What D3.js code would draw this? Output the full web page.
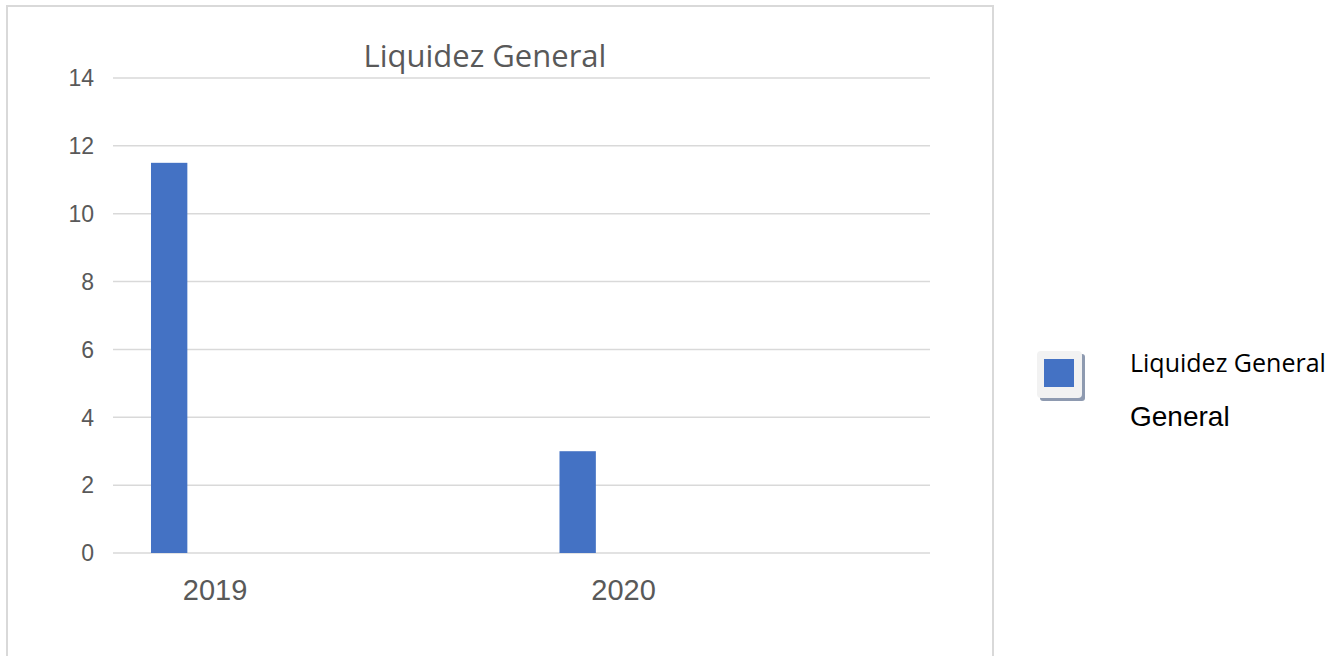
<!DOCTYPE html>
<html>
<head>
<meta charset="utf-8">
<script src="https://cdn.jsdelivr.net/npm/d3@7.9.0/dist/d3.min.js"></script>
<style>
  html, body { margin: 0; padding: 0; background: #fff; }
  svg { display: block; }
</style>
</head>
<body>
<svg id="chart" width="1344" height="656"></svg>
<script>
const years = ['2019', '2020'];
const liquidez = [11.5, 3];
const yTicks = [0, 2, 4, 6, 8, 10, 12, 14];
const chartTitle = 'Liquidez General';
const legendLabel = 'Liquidez General';
const legendExtra = 'General';

const svg = d3.select('#chart');
const blue = '#4472c4';
const grey = '#595959';

// outer frame (bottom runs off the page)
svg.append('rect')
  .attr('x', 7).attr('y', 6)
  .attr('width', 986).attr('height', 700)
  .attr('fill', 'none')
  .attr('stroke', '#d9d9d9')
  .attr('stroke-width', 2);

const x = d3.scaleBand().domain(years).range([113, 930]).padding(0);
const y = d3.scaleLinear().domain([0, 14]).range([553, 78]);

// gridlines
svg.append('g')
  .selectAll('line')
  .data(yTicks)
  .join('line')
  .attr('x1', 113).attr('x2', 930)
  .attr('y1', (d) => y(d)).attr('y2', (d) => y(d))
  .attr('stroke', '#d9d9d9')
  .attr('stroke-width', 1.5);

// y tick labels
svg.append('g')
  .selectAll('text')
  .data(yTicks)
  .join('text')
  .attr('x', 94)
  .attr('y', (d) => y(d))
  .attr('dy', '0.36em')
  .attr('text-anchor', 'end')
  .attr('font-family', 'Liberation Sans, Arial, sans-serif')
  .attr('font-size', 23)
  .attr('fill', grey)
  .text((d) => d);

// bars sit near the left of each band
const bw = x.bandwidth();
svg.append('g')
  .selectAll('rect')
  .data(years.map((yr, i) => ({ yr, v: liquidez[i] })))
  .join('rect')
  .attr('x', (d) => x(d.yr) + bw * 0.093)
  .attr('width', bw * 0.089)
  .attr('y', (d) => y(d.v))
  .attr('height', (d) => y(0) - y(d.v))
  .attr('fill', blue);

// category labels
svg.append('g')
  .selectAll('text')
  .data(years)
  .join('text')
  .attr('x', (d) => x(d) + bw * 0.25)
  .attr('y', 600)
  .attr('text-anchor', 'middle')
  .attr('font-family', 'Liberation Sans, Arial, sans-serif')
  .attr('font-size', 29)
  .attr('fill', grey)
  .text((d) => d);

// title
svg.append('text')
  .attr('x', 485).attr('y', 67)
  .attr('text-anchor', 'middle')
  .attr('font-family', 'Open Sans, sans-serif')
  .attr('font-size', 31)
  .attr('fill', grey)
  .text(chartTitle);

// legend
const lg = svg.append('g');
lg.append('rect')
  .attr('x', 1040).attr('y', 354)
  .attr('width', 45).attr('height', 47)
  .attr('rx', 3)
  .attr('fill', '#8e9ab0');
lg.append('rect')
  .attr('x', 1037).attr('y', 351)
  .attr('width', 45).attr('height', 47)
  .attr('rx', 4)
  .attr('fill', '#f2f2f2');
lg.append('rect')
  .attr('x', 1044).attr('y', 359)
  .attr('width', 30).attr('height', 28)
  .attr('fill', blue);
lg.append('text')
  .attr('x', 1130).attr('y', 372)
  .attr('font-family', 'Open Sans, sans-serif')
  .attr('font-size', 25)
  .attr('fill', '#000')
  .text(legendLabel);
lg.append('text')
  .attr('x', 1130).attr('y', 426)
  .attr('font-family', 'Liberation Sans, Arial, sans-serif')
  .attr('font-size', 28)
  .attr('fill', '#000')
  .text(legendExtra);
</script>
</body>
</html>
